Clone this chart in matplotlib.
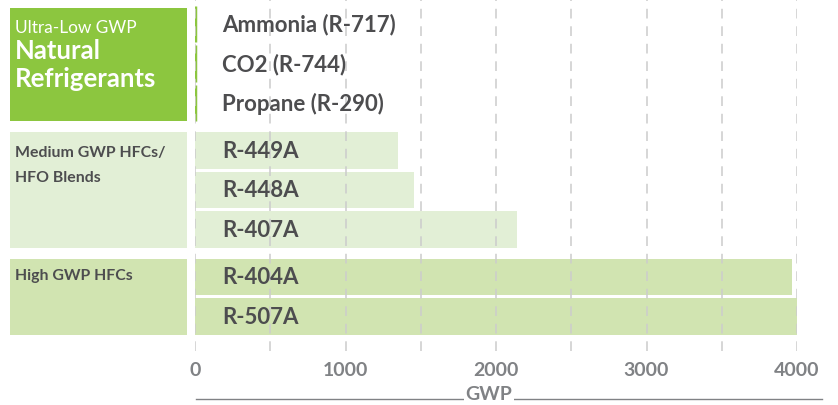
import matplotlib
matplotlib.use('Agg')
import matplotlib.pyplot as plt
import matplotlib.transforms as mtransforms
from matplotlib.patches import Rectangle
from matplotlib.lines import Line2D

plt.rcParams['font.family'] = ['Lato', 'DejaVu Sans']

# Data
groups = ['Natural Refrigerants', 'Medium GWP HFCs/\nHFO Blends', 'High GWP HFCs']
refrigerants = [
    ['Ammonia (R-717)', 'CO2 (R-744)', 'Propane (R-290)'],
    ['R-449A', 'R-448A', 'R-407A'],
    ['R-404A', 'R-507A'],
]
gwp = [
    [0, 1, 3],
    [1350, 1455, 2140],
    [3965, 4000],
]
x_ticks = [0, 1000, 2000, 3000, 4000]

# Colours
dark_green = '#8cc63f'
light_green = '#e2efd6'
mid_green = '#d1e4b1'
text_dark = '#4d4d4f'
text_grey = '#808285'

W, H = 838, 406
fig = plt.figure(figsize=(W / 100, H / 100), dpi=100)
ax = fig.add_axes([195 / W, 1 - 352 / H, 602 / W, 352 / H])
ax.set_xlim(0, 4000)
ax.set_ylim(352, 0)

# Layout in pixel-like units (top = 0)
pitch, bar_h, gap, first = 39.5, 36.5, 8.0, 25.0
title_off = [0, 19.5, 16.5]
panel_tf = mtransforms.blended_transform_factory(fig.transFigure, ax.transData)

y = first
for g, (names, vals) in enumerate(zip(refrigerants, gwp)):
    ys = [y + i * pitch for i in range(len(names))]
    if g == 0:
        ax.barh(ys, vals, height=bar_h, color=dark_green, edgecolor=dark_green,
                linewidth=2.5, zorder=2)
        face = dark_green
    else:
        face = light_green if g == 1 else mid_green
        ax.barh(ys, vals, height=bar_h, color=face, zorder=2)
    for yy, name in zip(ys, names):
        ax.annotate(name, xy=(0, yy), xytext=(27, 0), textcoords='offset pixels',
                    ha='left', va='center', fontsize=16, fontweight='bold',
                    color=text_dark, zorder=4)
    # group panel on the left
    top = ys[0] - bar_h / 2 + (2 if g == 0 else 0)
    bottom = ys[-1] + bar_h / 2
    ax.add_patch(Rectangle((10 / W, top), 177 / W, bottom - top,
                           transform=panel_tf, facecolor=face, edgecolor='none',
                           clip_on=False, zorder=1))
    if g == 0:
        ax.text(15 / W, top + 19, 'Ultra-Low GWP', transform=panel_tf,
                fontsize=12.4, color='white', ha='left', va='center')
        for k, word in enumerate(groups[0].split(' ')):
            ax.text(15 / W, top + 42 + 28 * k, word, transform=panel_tf,
                    fontsize=18.5, fontweight='bold', color='white',
                    ha='left', va='center')
    else:
        for k, line in enumerate(groups[g].split('\n')):
            ax.text(15 / W, top + title_off[g] + 25 * k, line, transform=panel_tf,
                    fontsize=11.4, fontweight='bold', color=text_dark,
                    ha='left', va='center')
    y = ys[-1] + pitch + gap

# Grid
ax.set_xticks(x_ticks)
ax.set_xticks([500, 1500, 2500, 3500], minor=True)
ax.grid(axis='x', which='both', color='#cccccc', linestyle=(0, (5, 4)),
        linewidth=1.4, alpha=0.8, zorder=3)
ax.set_axisbelow(False)
ax.set_yticks([])
ax.tick_params(axis='x', which='both', length=0, pad=7, labelsize=14,
               labelcolor=text_grey)
for lab in ax.get_xticklabels():
    lab.set_fontweight('bold')
for s in ax.spines.values():
    s.set_visible(False)

# Axis title with line
fig.add_artist(Line2D([196 / W, 822 / W], [1 - 400 / H, 1 - 400 / H],
                      color=text_grey, linewidth=1))
fig.text(489 / W, 1 - 395 / H, 'GWP', ha='center', va='center', fontsize=14,
         fontweight='bold', color=text_grey,
         bbox=dict(facecolor='white', edgecolor='none', pad=1))

fig.savefig('out.png', dpi=100)
